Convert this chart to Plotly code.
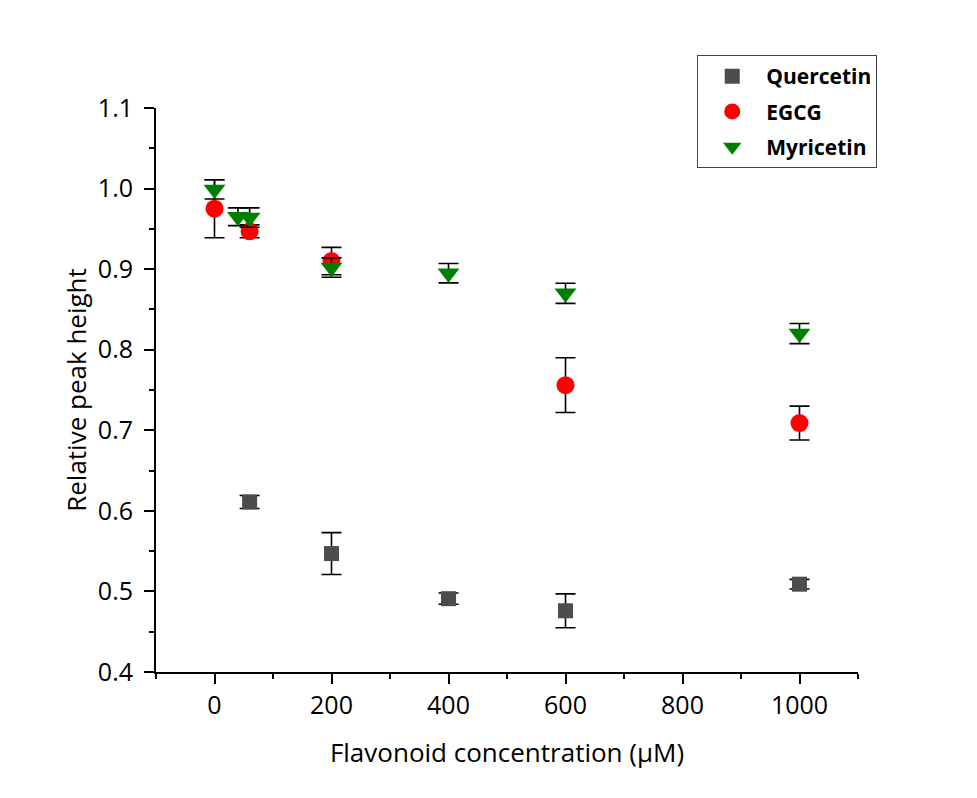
import plotly.graph_objects as go

# Data
q_x = [60, 200, 400, 600, 1000]
q_y = [0.611, 0.547, 0.491, 0.476, 0.509]
q_err = [0.008, 0.026, 0.007, 0.021, 0.006]

e_x = [0, 60, 200, 600, 1000]
e_y = [0.975, 0.947, 0.910, 0.756, 0.709]
e_err = [0.036, 0.008, 0.017, 0.034, 0.021]

m_x = [0, 40, 60, 200, 400, 600, 1000]
m_y = [0.999, 0.965, 0.964, 0.902, 0.895, 0.870, 0.820]
m_err = [0.012, 0.011, 0.012, 0.012, 0.012, 0.0125, 0.0125]

x_ticks = [0, 200, 400, 600, 800, 1000]
y_ticks = [0.4, 0.5, 0.6, 0.7, 0.8, 0.9, 1.0, 1.1]

err_style = dict(type="data", visible=True, color="black", thickness=1.6, width=10)

fig = go.Figure()
fig.add_trace(go.Scatter(
    x=q_x, y=q_y, mode="markers", name="Quercetin", legendgroup="q",
    marker=dict(symbol="square", size=15, color="#4d4d4d"),
    error_y=dict(array=q_err, **err_style)))
fig.add_trace(go.Scatter(
    x=e_x, y=e_y, mode="markers", name="EGCG", legendgroup="e",
    marker=dict(symbol="circle", size=18, color="#ff0000"),
    error_y=dict(array=e_err, **err_style)))
fig.add_trace(go.Scatter(
    x=m_x, y=m_y, mode="markers", name="Myricetin", legendgroup="m",
    marker=dict(symbol="triangle-down", size=19, color="#008000"),
    error_y=dict(array=m_err, **err_style)))

font_family = "'Open Sans', sans-serif"

fig.update_layout(
    width=977, height=798,
    paper_bgcolor="white", plot_bgcolor="white",
    margin=dict(l=148, r=127, t=100, b=134),
    font=dict(family=font_family, color="black"),
    showlegend=True,
    legend=dict(
        x=0.771, y=1.094, xanchor="left", yanchor="top",
        bordercolor="#444", borderwidth=1, bgcolor="white",
        font=dict(size=21, family=font_family, weight="bold"),
        itemsizing="trace", tracegroupgap=5, itemwidth=58,
    ),
    xaxis=dict(
        range=[-100, 1100], tickvals=x_ticks, ticktext=[str(v) for v in x_ticks],
        showline=True, linecolor="black", linewidth=2,
        ticks="outside", ticklen=10, tickwidth=2, tickcolor="black",
        minor=dict(dtick=100, tick0=0, ticks="outside", ticklen=5, tickwidth=2, tickcolor="black"),
        showgrid=False, zeroline=False,
        tickfont=dict(size=25),
        title=dict(text="Flavonoid concentration (μM)", font=dict(size=26), standoff=24),
    ),
    yaxis=dict(
        range=[0.4, 1.1], tickvals=y_ticks, ticktext=[f"{v:.1f}" for v in y_ticks],
        showline=True, linecolor="black", linewidth=2,
        ticks="outside", ticklen=10, tickwidth=2, tickcolor="black",
        ticklabelstandoff=6,
        minor=dict(dtick=0.05, tick0=0.4, ticks="outside", ticklen=5, tickwidth=2, tickcolor="black"),
        showgrid=False, zeroline=False,
        tickfont=dict(size=25),
        title=dict(text="Relative peak height", font=dict(size=26), standoff=4),
    ),
)

fig.write_html("out.html")
